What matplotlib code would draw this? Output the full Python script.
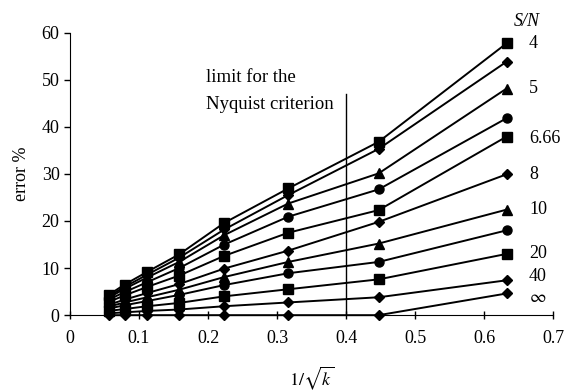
import matplotlib
matplotlib.use('Agg')
import matplotlib.pyplot as plt

plt.rcParams['font.family'] = 'Liberation Serif'
plt.rcParams['mathtext.fontset'] = 'stix'

# x = 1/sqrt(k) for k = 320, 160, 80, 40, 20, 10, 5, 2.5
x = [0.0559, 0.0791, 0.1118, 0.1581, 0.2236, 0.3162, 0.4472, 0.6325]

s1 = [4.3, 6.5, 9.2, 12.9, 19.6, 26.9, 36.8, 57.7]
s2 = [4.0, 6.0, 8.6, 12.2, 18.2, 25.5, 35.3, 53.8]
s3 = [3.7, 5.6, 8.0, 11.3, 17.0, 23.7, 30.1, 48.1]
s4 = [3.3, 4.9, 7.0, 10.0, 15.0, 20.9, 26.7, 41.8]
s5 = [2.8, 4.2, 6.0, 8.4, 12.6, 17.5, 22.3, 37.9]
s6 = [2.2, 3.3, 4.7, 6.6, 9.9, 13.7, 19.8, 29.9]
s7 = [1.8, 2.7, 3.8, 5.4, 8.1, 11.3, 15.2, 22.4]
s8 = [1.4, 2.1, 3.0, 4.3, 6.4, 8.9, 11.3, 18.0]
s9 = [0.9, 1.3, 1.9, 2.6, 4.0, 5.5, 7.6, 13.0]
s10 = [0.4, 0.6, 0.9, 1.2, 1.9, 2.7, 3.8, 7.4]
s11 = [0, 0, 0, 0, 0, 0, 0, 4.6]

series = [s1, s2, s3, s4, s5, s6, s7, s8, s9, s10, s11]
markers = ['s', 'D', '^', 'o', 's', 'D', '^', 'o', 's', 'D', 'D']
sn_labels = ['4', '', '5', '', '6.66', '8', '10', '', '20', '40', r'$\infty$']
label_shift = [0, 0, 0, 0, -0.5, 0, 0, 0, 0, 0.8, -0.8]

fig = plt.figure(figsize=(5.67, 3.92), dpi=100)
ax = fig.add_axes([0.1235, 0.196, 0.852, 0.721])

for ys, m in zip(series, markers):
    ms = 6.5 if m in ('s', 'o') else (7 if m == '^' else 5)
    ax.plot(x, ys, color='black', lw=1.4, marker=m, ms=ms, clip_on=False)

for ys, lab, dy in zip(series, sn_labels, label_shift):
    if lab:
        ax.text(0.665, ys[-1] + dy, lab, fontsize=13, va='center', ha='left')
ax.text(0.643, 62.3, 'S/N', fontsize=13, style='italic', va='center', ha='left')

ax.plot([0.4, 0.4], [0, 47], color='black', lw=1)
ax.text(0.197, 50.4, 'limit for the', fontsize=13.5, va='center', ha='left')
ax.text(0.197, 44.8, 'Nyquist criterion', fontsize=13.5, va='center', ha='left')

ax.set_xlim(0, 0.7)
ax.set_ylim(0, 60)
ax.set_xticks([0, 0.1, 0.2, 0.3, 0.4, 0.5, 0.6, 0.7])
ax.set_xticklabels(['0', '0.1', '0.2', '0.3', '0.4', '0.5', '0.6', '0.7'])
ax.set_yticks(range(0, 61, 10))
ax.tick_params(labelsize=13, direction='out', length=4, width=1)
ax.tick_params(axis='x', direction='inout', length=6, pad=8)
ax.spines['top'].set_visible(False)
ax.spines['right'].set_visible(False)
ax.set_ylabel('error %', fontsize=13, labelpad=8)
ax.set_xlabel(r'$1/\sqrt{k}$', fontsize=13, labelpad=12)

fig.savefig('out.png', dpi=100)
